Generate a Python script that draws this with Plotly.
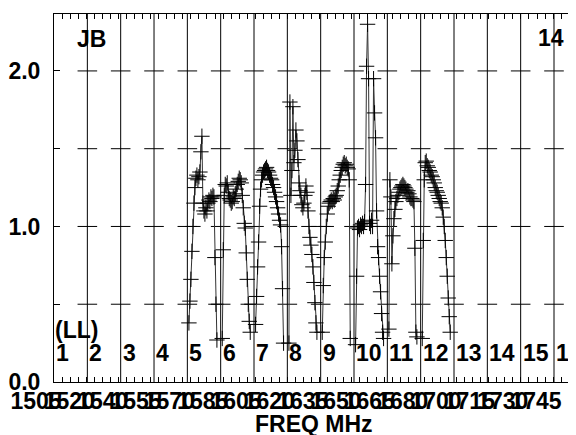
import plotly.graph_objects as go

# ---------------- data ----------------
if_numbers = ["1", "2", "3", "4", "5", "6", "7", "8", "9", "10", "11", "12", "13", "14", "15", "16"]
if_start_mhz = [1505, 1521, 1537, 1553, 1569, 1585, 1601, 1617, 1633, 1649,
                1665, 1681, 1697, 1713, 1729, 1745]
freq_tick_labels = ["1505", "1520", "1540", "1555", "1570", "1585", "1605", "1620",
                    "1635", "1650", "1665", "1680", "1700", "1715", "1730", "1745"]
y_tick_vals = [0.0, 0.5, 1.0, 1.5, 2.0]
y_tick_text = ["0.0", "", "1.0", "", "2.0"]

# amplitude per channel, IFs 5..12 (IFs 1-4, 13-16 flagged)
amp_if5 = [0.38, 0.52, 0.66, 0.84, 1.00, 1.15, 1.25, 1.31, 1.33, 1.30, 1.32, 1.35, 1.48, 1.58, 1.15,
           1.10, 1.08, 1.12, 1.10, 1.15, 1.17, 1.16, 1.19, 1.18, 1.20, 1.19, 0.80, 0.50, 0.27]
amp_if6 = [0.28, 0.85, 1.20, 1.27, 1.26, 1.28, 1.22, 1.18, 1.17, 1.15, 1.16, 1.19, 1.18, 1.21, 1.24,
           1.27, 1.29, 1.31, 1.30, 1.28, 1.20, 1.12, 1.02, 0.99, 0.83, 0.66, 0.50, 0.39, 0.32]
amp_if7 = [0.37, 0.55, 0.74, 0.90, 1.13, 1.24, 1.30, 1.33, 1.35, 1.36, 1.37, 1.38, 1.36, 1.35, 1.33,
           1.31, 1.30, 1.27, 1.25, 1.22, 1.19, 1.16, 1.12, 1.08, 1.04, 1.01, 0.87, 0.60, 0.25]
amp_if8 = [0.25, 1.80, 1.20, 1.36, 1.77, 1.41, 1.49, 1.62, 1.55, 1.43, 1.28, 1.23, 1.20, 1.14, 1.12,
           1.15, 1.20, 1.26, 1.22, 1.10, 1.00, 0.93, 0.88, 0.82, 0.74, 0.64, 0.51, 0.38, 0.32]
amp_if9 = [0.32, 0.62, 0.80, 0.90, 1.00, 1.08, 1.13, 1.15, 1.16, 1.17, 1.16, 1.18, 1.17, 1.19, 1.20,
           1.23, 1.26, 1.30, 1.33, 1.36, 1.38, 1.40, 1.41, 1.39, 1.40, 1.38, 1.37, 1.30, 0.28]
amp_if10 = [0.24, 0.68, 0.99, 1.00, 0.98, 1.01, 1.00, 1.02, 1.00, 1.03, 1.27, 2.03, 2.30, 1.95, 1.02,
            1.00, 1.04, 1.00, 1.95, 1.73, 1.57, 1.10, 0.87, 0.80, 0.68, 0.58, 0.44, 0.32, 0.28]
amp_if11 = [0.34, 1.30, 1.19, 0.76, 0.94, 1.05, 1.11, 1.16, 1.18, 1.20, 1.22, 1.24, 1.25, 1.26, 1.27,
            1.26, 1.25, 1.24, 1.22, 1.23, 1.21, 1.19, 1.18, 1.18, 1.17, 1.16, 0.86, 0.32, 0.29]
amp_if12 = [0.28, 0.91, 1.30, 1.41, 1.42, 1.39, 1.38, 1.36, 1.35, 1.33, 1.32, 1.30, 1.28, 1.25, 1.23,
            1.22, 1.20, 1.18, 1.16, 1.15, 1.12, 1.06, 1.00, 0.91, 0.80, 0.68, 0.54, 0.42, 0.32]

spectra = {5: amp_if5, 6: amp_if6, 7: amp_if7, 8: amp_if8,
           9: amp_if9, 10: amp_if10, 11: amp_if11, 12: amp_if12}

chan_offset = 0.75   # MHz from IF start to first channel
chan_width = 0.48    # MHz per channel
y_max = 2.366
x_min, x_max = 1504.99, 1755.56

# ---------------- figure ----------------
FONT = "Liberation Sans"
FS = 23
fig = go.Figure()

# IF separator lines
sep_x, sep_y = [], []
for f in if_start_mhz[1:]:
    sep_x += [f, f, None]
    sep_y += [0, y_max, None]
fig.add_trace(go.Scatter(x=sep_x, y=sep_y, mode="lines",
                         line=dict(color="black", width=1), hoverinfo="skip", showlegend=False))

# tick crosses on each IF line
cx, cy = [], []
for f in if_start_mhz[1:]:
    for v in y_tick_vals[1:]:
        cx.append(f)
        cy.append(v)
fig.add_trace(go.Scatter(x=cx, y=cy, mode="markers",
                         marker=dict(symbol="line-ew", size=14, line=dict(color="black", width=1)),
                         hoverinfo="skip", showlegend=False))

# spectra
sx, sy = [], []
for ifn, amps in spectra.items():
    start = if_start_mhz[ifn - 1]
    for i, a in enumerate(amps):
        sx.append(start + chan_offset + chan_width * i)
        sy.append(a)
    sx.append(None)
    sy.append(None)
fig.add_trace(go.Scatter(x=sx, y=sy, mode="lines+markers",
                         line=dict(color="#333333", width=1),
                         marker=dict(symbol="cross-thin", size=11, line=dict(color="black", width=1)),
                         showlegend=False))

# dummy trace for label axis
fig.add_trace(go.Scatter(x=[if_start_mhz[0]], y=[0], xaxis="x2", mode="markers",
                         marker=dict(opacity=0), hoverinfo="skip", showlegend=False))

text_font = dict(family=FONT, size=FS, color="black", weight="bold")

# IF number labels
for name, f in zip(if_numbers, if_start_mhz):
    fig.add_annotation(x=f, y=0.08, xref="x", yref="paper", text=name, showarrow=False,
                       xanchor="left", yanchor="middle", xshift=0,
                       font=text_font)

fig.add_annotation(x=0.0, y=0.142, xref="paper", yref="paper", text="(LL)", showarrow=False,
                   xanchor="left", yanchor="middle", xshift=-1, font=text_font)
fig.add_annotation(x=0.071, y=0.931, xref="paper", yref="paper", text="JB", showarrow=False,
                   xanchor="center", yanchor="middle", font=text_font)
fig.add_annotation(x=0.952, y=0.934, xref="paper", yref="paper", text="14", showarrow=False,
                   xanchor="center", yanchor="middle", font=text_font)
fig.add_annotation(x=0.498, y=-0.113, xref="paper", yref="paper", text="FREQ MHz", showarrow=False,
                   xanchor="center", yanchor="middle", font=text_font)

# page body has an 8px margin: figure is offset/sized to compensate
fig.update_layout(
    template="none",
    width=576, height=427,
    margin=dict(l=46, r=8, t=6, b=53, pad=0, autoexpand=False),
    paper_bgcolor="white", plot_bgcolor="white",
    showlegend=False,
    xaxis=dict(range=[x_min, x_max], showgrid=False, zeroline=False, automargin=False,
               showline=True, linecolor="black", linewidth=1, mirror="ticks",
               tickmode="linear", tick0=1505, dtick=3.864,
               ticks="inside", ticklen=5, tickcolor="black", tickwidth=1,
               showticklabels=False),
    xaxis2=dict(overlaying="x", matches="x", side="bottom", showgrid=False, zeroline=False,
                automargin=False,
                showline=False, tickmode="array", tickvals=if_start_mhz, ticktext=freq_tick_labels,
                ticks="", tickangle=0, ticklabelshift=-18, ticklabelstandoff=3,
                tickfont=text_font),
    yaxis=dict(range=[0, y_max], showgrid=False, zeroline=False, automargin=False,
               showline=True, linecolor="black", linewidth=1, mirror=False,
               tickmode="array", tickvals=y_tick_vals, ticktext=y_tick_text,
               ticks="inside", ticklen=6, tickcolor="black", tickwidth=1,
               ticklabelstandoff=8,
               tickfont=text_font),
)

fig.write_html("out.html")
